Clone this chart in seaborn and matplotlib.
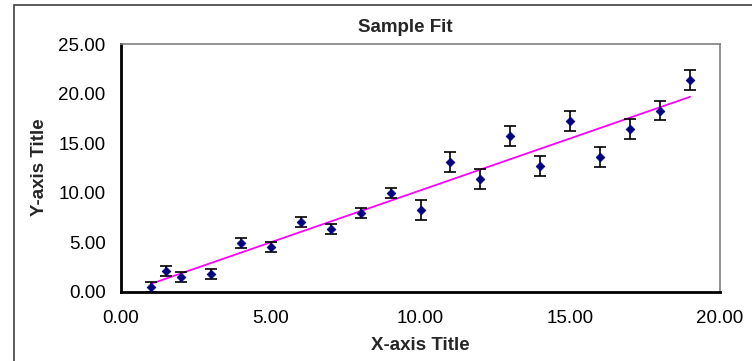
import numpy as np
import pandas as pd
import matplotlib
matplotlib.use('Agg')
import matplotlib.pyplot as plt
from matplotlib.patches import Rectangle
from matplotlib.ticker import MultipleLocator, FormatStrFormatter
import seaborn as sns

# data
x_vals = [1, 1.5, 2, 3, 4, 5, 6, 7, 8, 9, 10, 11, 12, 13, 14, 15, 16, 17, 18, 19]
y_vals = [0.44, 2.09, 1.52, 1.79, 4.95, 4.48, 7.07, 6.37, 7.95, 9.97,
          8.29, 13.14, 11.35, 15.77, 12.67, 17.25, 13.58, 16.48, 18.30, 21.36]
y_err = [0.5, 0.5, 0.5, 0.5, 0.5, 0.5, 0.5, 0.5, 0.5, 0.5,
         1.0, 1.0, 1.0, 1.0, 1.0, 1.0, 1.0, 1.0, 1.0, 1.0]

title = 'Sample Fit'
x_title = 'X-axis Title'
y_title = 'Y-axis Title'

df = pd.DataFrame({'x': x_vals, 'y': y_vals, 'err': y_err})

# linear fit, weighted by the error bars
slope, intercept = np.polyfit(df['x'], df['y'], 1, w=1 / df['err'])
fit_df = pd.DataFrame({'x': [df['x'].min(), df['x'].max()]})
fit_df['y'] = slope * fit_df['x'] + intercept

sns.set_style('white')
plt.rcParams['font.family'] = ['Liberation Sans', 'DejaVu Sans']
fs = 13.5

fig = plt.figure(figsize=(7.52, 3.61), dpi=100)
ax = fig.add_axes([121 / 752, 1 - 291.7 / 361, (720 - 121) / 752, (291.7 - 44.3) / 361])

# outer frame of the chart area
fig.add_artist(Rectangle((14 / 752, -0.2), 1.2, 0.2 + 1 - 5 / 361,
                         transform=fig.transFigure, fill=False,
                         ec='#404040', lw=1.2))

sns.lineplot(data=fit_df, x='x', y='y', color='#FF00FF', lw=1.3, ax=ax, zorder=2)
ax.errorbar(df['x'], df['y'], yerr=df['err'], fmt='none', ecolor='black',
            elinewidth=1.2, capsize=4.2, capthick=1.2, zorder=3)
sns.scatterplot(data=df, x='x', y='y', marker='D', s=20, color='#000080',
                edgecolor='#000080', linewidth=0.5, ax=ax, zorder=4)

ax.set_xlim(0, 20)
ax.set_ylim(0, 25)
ax.xaxis.set_major_locator(MultipleLocator(5))
ax.xaxis.set_minor_locator(MultipleLocator(1))
ax.yaxis.set_major_locator(MultipleLocator(5))
ax.yaxis.set_minor_locator(MultipleLocator(1))
ax.xaxis.set_major_formatter(FormatStrFormatter('%.2f'))
ax.yaxis.set_major_formatter(FormatStrFormatter('%.2f'))
ax.tick_params(axis='both', which='both', direction='in', length=4,
               width=1, color='black', labelsize=fs, labelcolor='black')
ax.tick_params(axis='x', which='major', pad=13)
ax.tick_params(axis='y', which='major', pad=11)
ax.set_xlabel('')
ax.set_ylabel('')

for side in ['left', 'bottom']:
    ax.spines[side].set_color('black')
    ax.spines[side].set_linewidth(2)
for side in ['top', 'right']:
    ax.spines[side].set_color('#808080')
    ax.spines[side].set_linewidth(1.2)

fig.text(405.7 / 752, 1 - 27 / 361, title, ha='center', va='center',
         fontsize=fs, fontweight='bold')
fig.text(420 / 752, 1 - 346 / 361, x_title, ha='center', va='center',
         fontsize=fs, fontweight='bold')
fig.text(40 / 752, 1 - 167 / 361, y_title, ha='center', va='center',
         rotation=90, fontsize=fs, fontweight='bold')

fig.savefig('out.png', dpi=100)
